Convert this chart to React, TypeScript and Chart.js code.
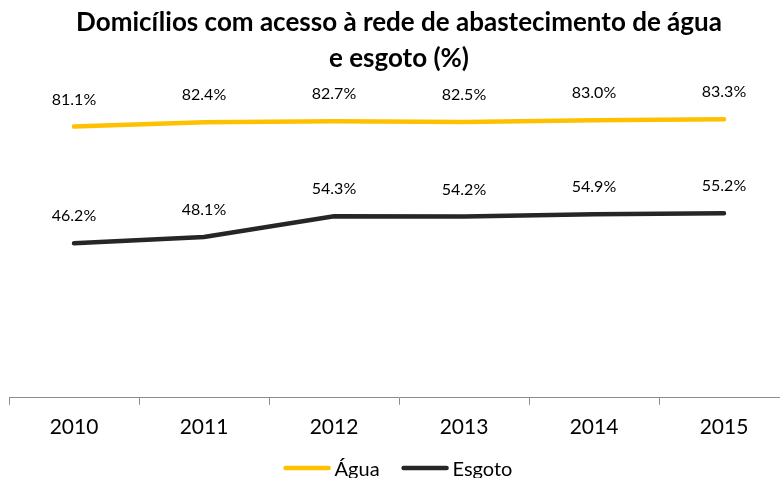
import React, { useEffect, useRef } from "react";
import { Chart, registerables } from "chart.js";

Chart.register(...registerables);

const years = ["2010", "2011", "2012", "2013", "2014", "2015"];
const agua = [81.1, 82.4, 82.7, 82.5, 83.0, 83.3];
const esgoto = [46.2, 48.1, 54.3, 54.2, 54.9, 55.2];
const seriesNames = ["Água", "Esgoto"];
const seriesColors = ["#FFC000", "#262626"];
const titleLines = ["Domicílios com acesso à rede de abastecimento de água", "e esgoto (%)"];

const FONT = "Lato, 'Open Sans', sans-serif";

const dataLabelPlugin = {
  id: "dataLabels",
  afterDatasetsDraw(chart: any) {
    const ctx = chart.ctx;
    ctx.save();
    ctx.font = `16px ${FONT}`;
    ctx.fillStyle = "#000";
    ctx.textAlign = "center";
    ctx.textBaseline = "middle";
    chart.data.datasets.forEach((ds: any, i: number) => {
      const meta = chart.getDatasetMeta(i);
      meta.data.forEach((pt: any, j: number) => {
        ctx.fillText(ds.data[j].toFixed(1) + "%", pt.x, pt.y - 27);
      });
    });
    ctx.restore();
  },
};

const legendPlugin = {
  id: "customLegend",
  afterDraw(chart: any) {
    const ctx = chart.ctx;
    ctx.save();
    ctx.font = `20px ${FONT}`;
    const lineW = 47;
    const gap = 4;
    const itemGap = 22;
    const items = chart.data.datasets.map((ds: any) => ({
      label: ds.label,
      color: ds.borderColor,
      w: lineW + gap + ctx.measureText(ds.label).width,
    }));
    const total = items.reduce((s: number, it: any) => s + it.w, 0) + itemGap * (items.length - 1);
    let x = 398 - total / 2;
    const y = 468;
    items.forEach((it: any) => {
      ctx.strokeStyle = it.color;
      ctx.lineWidth = 4.5;
      ctx.lineCap = "round";
      ctx.beginPath();
      ctx.moveTo(x + 2, y);
      ctx.lineTo(x + lineW - 2, y);
      ctx.stroke();
      ctx.fillStyle = "#000";
      ctx.textAlign = "left";
      ctx.textBaseline = "alphabetic";
      ctx.fillText(it.label, x + lineW + gap, 476);
      x += it.w + itemGap;
    });
    ctx.restore();
  },
};

export default function App() {
  const ref = useRef<HTMLCanvasElement>(null);
  useEffect(() => {
    if (!ref.current) return;
    const chart = new Chart(ref.current, {
      type: "line",
      data: {
        labels: years,
        datasets: [
          {
            label: seriesNames[0],
            data: agua,
            borderColor: seriesColors[0],
            backgroundColor: seriesColors[0],
            borderWidth: 4.5,
            pointRadius: 0,
            tension: 0,
            borderCapStyle: "round",
          },
          {
            label: seriesNames[1],
            data: esgoto,
            borderColor: seriesColors[1],
            backgroundColor: seriesColors[1],
            borderWidth: 4.5,
            pointRadius: 0,
            tension: 0,
            borderCapStyle: "round",
          },
        ],
      },
      options: {
        responsive: false,
        animation: false,
        devicePixelRatio: 1,
        layout: { padding: { left: 9, right: 11, top: 0, bottom: 28 } },
        plugins: {
          legend: { display: false },
          tooltip: { enabled: false },
          title: {
            display: true,
            text: titleLines,
            color: "#000",
            font: { family: FONT, size: 26, weight: "bold", lineHeight: 1.4 },
            padding: { top: 4, bottom: 0 },
          },
        },
        scales: {
          x: {
            type: "category",
            offset: true,
            grid: {
              offset: true,
              drawOnChartArea: false,
              drawTicks: true,
              tickLength: 7,
              color: "#8c8c8c",
              lineWidth: 1,
            },
            border: { display: true, color: "#8c8c8c", width: 1 },
            ticks: {
              color: "#000",
              font: { family: FONT, size: 21 },
              padding: 10,
            },
          },
          y: {
            display: false,
            min: 0,
            max: 96,
          },
        },
      },
      plugins: [dataLabelPlugin, legendPlugin],
    });
    return () => chart.destroy();
  }, []);
  return (
    <div
      style={{
        position: "fixed",
        left: 0,
        top: 0,
        width: 780,
        height: 478,
        overflow: "hidden",
        background: "#fff",
      }}
    >
      <canvas ref={ref} width={800} height={478} style={{ width: 800, height: 478, display: "block" }} />
    </div>
  );
}
